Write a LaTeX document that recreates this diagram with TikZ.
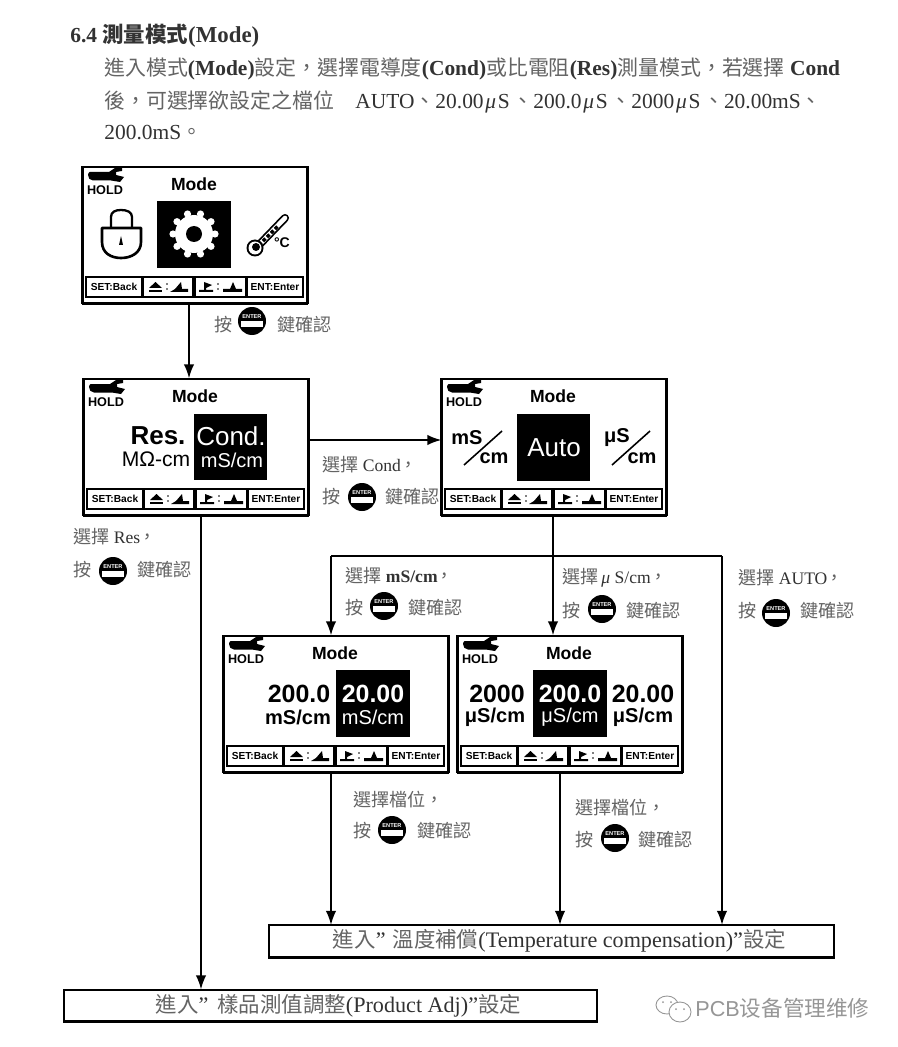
\documentclass[tikz,border=0pt]{standalone}
\usepackage{fontspec}
\setmainfont{Liberation Serif}
\setsansfont{Liberation Sans}
\newfontfamily\cjk{Noto Sans CJK TC}
\newfontfamily\cjksc{Noto Sans CJK SC}
\usetikzlibrary{arrows.meta,positioning}
\definecolor{zhgray}{RGB}{100,100,100}
\definecolor{txtgray}{RGB}{50,50,50}
\definecolor{markgray}{RGB}{150,150,150}
\newcommand{\fs}[1]{\fontsize{#1}{#1}\selectfont}
\newcommand{\zh}[2][10.3]{{\cjk\fs{#1}\color{zhgray}#2}}
\tikzset{
  lcdframe/.style={draw=black,line width=0.8pt,fill=white,inner sep=0pt,minimum width=4.48cm,minimum height=2.72cm},
  softkey/.style={draw=black,line width=0.6pt,inner sep=0pt,minimum height=0.4cm,font=\sffamily\bfseries\fs{5.8}},
  lcdtxt/.style={inner sep=0pt,font=\sffamily\bfseries},
  lcdwht/.style={inner sep=0pt,font=\sffamily,text=white},
  blackbox/.style={fill=black,inner sep=0pt,minimum width=1.47cm,minimum height=1.33cm},
  flowline/.style={line width=1pt,-{Latex[length=8pt,width=6pt]}},
  plainline/.style={line width=1pt},
  flowtext/.style={anchor=west,inner sep=0pt,text=txtgray,font=\fs{10}},
  bodytext/.style={anchor=west,inner sep=0pt,text=txtgray,font=\fs{12.2}},
  endbox/.style={draw=black,line width=0.7pt,fill=white,inner sep=0pt,minimum height=0.62cm,text=txtgray,font=\fs{12.6}},
  enterkey/.pic={
    \fill[black] (0,0) circle (14);
    \fill[white] (-11,0) rectangle (11,6);
    \node[inner sep=0pt,text=white,font=\sffamily\bfseries\fs{3.2}] (-txt) at (0,-4.5) {ENTER};
  }
}
% screen frame with HOLD icon, title and soft keys
\newcommand{\lcdscreen}[3]{
  \node[lcdframe] (#1) at (#2+112,#3+68) {};
  \draw[line width=1.7pt] (#1.south west) -- (#1.south east);
  \draw[line width=1.2pt] (#1.north east) -- (#1.south east);
  \draw[line width=1.2pt] (#1.north west) -- (#1.south west);
  \begin{scope}[shift={(#2,#3)}]
    % wrench
    \fill[black] (5,8) .. controls (5,5) and (8,4) .. (10,5) -- (26,5) -- (32,1) -- (39,1) -- (39,4)
      -- (33,5) -- (33,8) -- (41,10) -- (37,15) -- (28,13.5) -- (10,13.5) .. controls (7,13.5) and (5,11) .. (5,8) -- cycle;
    \node[lcdtxt,font=\sffamily\bfseries\fs{7.2}] (#1hold) at (22,23) {HOLD};
    \node[lcdtxt,font=\sffamily\bfseries\fs{10}] (#1title) at (111,17) {Mode};
    % soft keys
    \node[softkey,minimum width=1.12cm] (#1ka) at (31,120) {SET:Back};
    \node[softkey,minimum width=1.00cm] (#1kb) at (85,120) {};
    \node[softkey,minimum width=1.02cm] (#1kc) at (137.5,120) {};
    \node[softkey,minimum width=1.12cm] (#1kd) at (192,120) {ENT:Enter};
    \fill[black] (66,121) -- (72.5,115) -- (79,121) -- cycle;
    \fill[black] (66,123) rectangle (79,125);
    \fill[black] (84,117) circle (0.9) (84,122) circle (0.9);
    \fill[black] (87,125) -- (105,125) -- (105,122) -- (99,122) -- (98,115) -- (92,122) -- cycle;
    \fill[black] (121,115) -- (129,118) -- (123,121) -- (123,123) -- (130,123) -- (130,125) -- (116,125) -- (116,123) -- (121,123) -- cycle;
    \fill[black] (135,117) circle (0.9) (135,122) circle (0.9);
    \fill[black] (140,125) -- (159,125) -- (159,122) -- (153,122) -- (150,115) -- (147,122) -- (140,122) -- cycle;
  \end{scope}
}
% press-key line: name, x and y of text, x of last part
\newcommand{\pressline}[4]{
  \node[flowtext] (#1a) at (#2,#3) {\zh{按}};
  \node[flowtext] (#1b) at (#4,#3) {\zh{鍵確認}};
}
\newcommand{\mug}{\hspace{1pt}{\itshape μ}\hspace{1pt}}
\begin{document}
\begin{tikzpicture}[x=0.02cm,y=-0.02cm]
  \useasboundingbox (0,0) rectangle (897,1047);
  \fill[white] (0,0) rectangle (897,1047);

  % Heading and paragraph
  \node[bodytext] (head) at (70,36) {\textbf{6.4 }{\cjk\fs{12.2}\bfseries\color{black!80}測量模式}\textbf{\fs{13}(Mode)}};
  \node[bodytext] (parA) at (104,69) {\zh[11.9]{進入模式}\textbf{(Mode)}\zh[11.9]{設定，選擇電導度}\textbf{(Cond)}\zh[11.9]{或比電阻}\textbf{(Res)}\zh[11.9]{測量模式，若選擇} \textbf{Cond}};
  \node[bodytext] (parB) at (104,102) {\zh[11.9]{後，可選擇欲設定之檔位}\hspace{12pt}AUTO\zh[11.9]{、}20.00\mug S\hspace{1.5pt}\zh[11.9]{、}200.0\mug S\hspace{1.5pt}\zh[11.9]{、}2000\mug S\hspace{1.5pt}\zh[11.9]{、}20.00mS\zh[11.9]{、}};
  \node[bodytext] (parC) at (104,133) {200.0mS\zh[11.9]{。}};

  % Screens
  \lcdscreen{lcdTop}{83}{167}
  \lcdscreen{lcdCond}{84}{379}
  \lcdscreen{lcdAuto}{442}{379}
  \lcdscreen{lcdMs}{224}{636}
  \lcdscreen{lcdUs}{458}{636}

  % Screen 1: lock, gear, thermometer
  \draw[line width=1.5pt,line join=round] (102,228) -- (141,228) -- (141,242) .. controls (141,253) and (131,258) .. (121,258)
    .. controls (111,258) and (102,253) .. (102,242) -- cycle;
  \draw[line width=1.3pt] (111,228) -- (111,217) .. controls (111,212) and (115,210) .. (121,210)
    .. controls (127,210) and (132,212) .. (132,217) -- (132,228);
  \fill[black] (121,236) -- (123,245) -- (119,245) -- cycle;
  \node[blackbox] (gearBox) at (194,234.5) {};
  \begin{scope}[shift={(194,234)}]
    \fill[white] (0,0) circle (19);
    \foreach \a in {0,36,...,324} \fill[white] (\a:21) circle (3.6);
    \fill[black] (0,0) circle (8);
  \end{scope}
  \draw[line width=4.6pt,line cap=round] (258,246) -- (285,218);
  \draw[white,line width=2.6pt,line cap=round] (258,246) -- (285,218);
  \draw[line width=2pt,dash pattern=on 2pt off 1.2pt] (259,245) -- (278,226);
  \fill[black] (255,248) circle (8.5);
  \fill[white] (255,248) circle (6.5);
  \fill[black] (256,247) circle (4);
  \node[lcdtxt,font=\sffamily\bfseries\fs{8}] (degC) at (282,243) {°C};

  % Screen 2: Res / Cond
  \node[lcdtxt,font=\sffamily\bfseries\fs{14.8}] (resTxt) at (158,436) {Res.};
  \node[lcdtxt,font=\sffamily\fs{12}] (resUnit) at (156,459.5) {MΩ-cm};
  \node[blackbox] (condBox) at (230.5,447) {};
  \node[lcdwht,font=\sffamily\fs{14.8}] (condTxt) at (231,436.5) {Cond.};
  \node[lcdwht,font=\sffamily\fs{11.4}] (condUnit) at (232,460) {mS/cm};

  % Screen 3: mS/cm, Auto, uS/cm
  \node[lcdtxt,font=\sffamily\bfseries\fs{11.4}] (msA) at (467,438) {mS};
  \draw[line width=0.9pt] (464,465) -- (502,431);
  \node[lcdtxt,font=\sffamily\bfseries\fs{11.4}] (msB) at (494,458.5) {cm};
  \node[blackbox] (autoBox) at (553.5,447.5) {};
  \node[lcdwht,font=\sffamily\fs{14.8}] (autoTxt) at (554,448) {Auto};
  \node[lcdtxt,font=\sffamily\bfseries\fs{11.4}] (usA) at (617,438) {μS};
  \draw[line width=0.9pt] (612,465) -- (650,431);
  \node[lcdtxt,font=\sffamily\bfseries\fs{11.4}] (usB) at (642,458.5) {cm};

  % Screen 4: mS ranges
  \node[lcdtxt,font=\sffamily\bfseries\fs{14.2}] (msHigh) at (299,694) {200.0};
  \node[lcdtxt,font=\sffamily\bfseries\fs{11.4}] (msHighU) at (298,717) {mS/cm};
  \node[blackbox] (msBox) at (373,703.5) {};
  \node[lcdwht,font=\sffamily\bfseries\fs{14.2}] (msLow) at (373,694) {20.00};
  \node[lcdwht,font=\sffamily\fs{11.4}] (msLowU) at (373,717) {mS/cm};

  % Screen 5: uS ranges
  \node[lcdtxt,font=\sffamily\bfseries\fs{14.2}] (usHigh) at (497,694) {2000};
  \node[lcdtxt,font=\sffamily\bfseries\fs{11.4}] (usHighU) at (495,717) {μS/cm};
  \node[blackbox] (usBox) at (570,703.5) {};
  \node[lcdwht,font=\sffamily\bfseries\fs{14.2}] (usMid) at (570,694) {200.0};
  \node[lcdwht,font=\sffamily\fs{11.4}] (usMidU) at (570,717) {μS/cm};
  \node[lcdtxt,font=\sffamily\bfseries\fs{14.2}] (usLow) at (643,694) {20.00};
  \node[lcdtxt,font=\sffamily\bfseries\fs{11.4}] (usLowU) at (643,717) {μS/cm};

  % End boxes
  \node[endbox,minimum width=11.3cm] (tempBox) at (551.5,941) {\hspace{9pt}\zh[12.2]{進入}”\hspace{4pt}\zh[12.2]{溫度補償}(Temperature compensation)”\zh[12.2]{設定}};
  \draw[line width=1.7pt] (tempBox.south west) -- (tempBox.south east);
  \draw[line width=1.2pt] (tempBox.north west) -- (tempBox.north east);
  \node[endbox,minimum width=10.66cm] (adjBox) at (330.5,1005.5) {\hspace{9pt}\zh[12.2]{進入}”\hspace{5pt}\zh[12.2]{樣品測值調整}(Product Adj)”\zh[12.2]{設定}};
  \draw[line width=1.2pt] (adjBox.south west) -- (adjBox.south east);

  % Connector columns
  \coordinate (colA) at (189,0);
  \coordinate (colB) at (201,0);
  \coordinate (colC) at (331,0);
  \coordinate (colD) at (553,0);
  \coordinate (colE) at (560,0);
  \coordinate (colF) at (722,0);
  \coordinate (rowA) at (0,440);
  \coordinate (rowB) at (0,556);

  % Connectors
  \draw[flowline] (colA |- lcdTop.south) -- (colA |- lcdCond.north);
  \draw[flowline] (lcdCond.east |- rowA) -- (lcdAuto.west |- rowA);
  \draw[flowline] (colB |- lcdCond.south) -- (colB |- adjBox.north);
  \draw[flowline] (colD |- lcdAuto.south) -- (colD |- lcdUs.north);
  \draw[flowline] (colC |- rowB) -- (colC |- lcdMs.north);
  \draw[plainline] (colC |- rowB) -- (colF |- rowB);
  \draw[flowline] (colF |- rowB) -- (colF |- tempBox.north);
  \draw[flowline] (colC |- lcdMs.south) -- (colC |- tempBox.north);
  \draw[flowline] (colE |- lcdUs.south) -- (colE |- tempBox.north);

  % Labels beside connectors
  \pressline{prA}{214}{325}{277}
  \pic (keyA) at (252,321) {enterkey};
  \node[flowtext] (lblCond) at (322,465) {\zh{選擇} Cond\hspace{-1pt}\zh{，}};
  \pressline{prB}{322}{497}{385}
  \pic (keyB) at (362,497) {enterkey};
  \node[flowtext] (lblRes) at (73,537) {\zh{選擇} Res\hspace{-1pt}\zh{，}};
  \pressline{prC}{73}{570}{137}
  \pic (keyC) at (113,571) {enterkey};
  \node[flowtext] (lblMs) at (345,576) {\zh{選擇} \textbf{mS/cm}\hspace{-1pt}\zh{，}};
  \pressline{prD}{345}{608}{408}
  \pic (keyD) at (384,606) {enterkey};
  \node[flowtext] (lblUs) at (562,578) {\zh{選擇}\,{\itshape μ} S/cm\hspace{-1pt}\zh{，}};
  \pressline{prE}{562}{611}{626}
  \pic (keyE) at (602,609) {enterkey};
  \node[flowtext] (lblAuto) at (738,578) {\zh{選擇} AUTO\hspace{-1pt}\zh{，}};
  \pressline{prF}{738}{611}{800}
  \pic (keyF) at (776,613) {enterkey};
  \node[flowtext] (lblPosA) at (353,800) {\zh{選擇檔位，}};
  \pressline{prG}{353}{831}{417}
  \pic (keyG) at (392,830) {enterkey};
  \node[flowtext] (lblPosB) at (575,808) {\zh{選擇檔位，}};
  \pressline{prH}{575}{840}{638}
  \pic (keyH) at (615,838) {enterkey};

  % Watermark
  \draw[markgray,line width=0.5pt] (667,1005) ellipse (11 and 9);
  \draw[markgray,line width=0.5pt,fill=white] (680,1012) ellipse (11 and 10);
  \fill[markgray] (663,1002) circle (1) (671,1002) circle (1) (676,1009) circle (1) (684,1009) circle (1);
  \node[anchor=west,inner sep=0pt,text=markgray,font=\sffamily\fs{12.3}] (markTxt) at (695,1008) {PCB{\cjksc 设备管理维修}};
\end{tikzpicture}
\end{document}
